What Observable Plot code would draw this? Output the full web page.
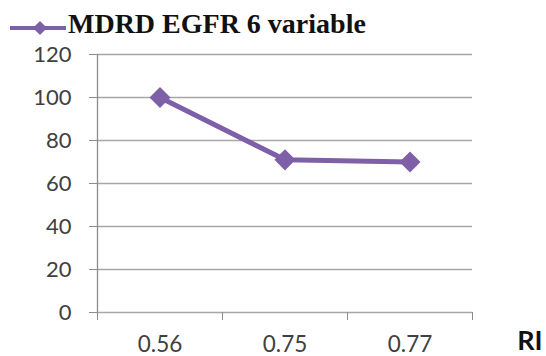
<!DOCTYPE html>
<html>
<head>
<meta charset="utf-8">
<script src="https://cdn.jsdelivr.net/npm/d3@7"></script>
<script src="https://cdn.jsdelivr.net/npm/@observablehq/plot@0.6"></script>
<style>
  html, body { margin: 0; padding: 0; background: #fff; }
  #wrap { position: relative; width: 546px; height: 356px; overflow: hidden; }
  #legend { height: 40px; position: relative; }
  #legend svg { position: absolute; left: 8px; top: 18px; }
  #legend span { position: absolute; left: 68px; top: 9px; font-family: "Liberation Serif", "DejaVu Serif", serif; font-weight: bold; font-size: 28px; line-height: 30px; color: #111; white-space: nowrap; }
</style>
</head>
<body>
<div id="wrap">
  <div id="legend"></div>
  <div id="chart"></div>
</div>
<script>
const seriesName = "MDRD EGFR 6 variable";
const categories = ["0.56", "0.75", "0.77"];
const values = [100, 71, 70];
const yTicks = [0, 20, 40, 60, 80, 100, 120];
const xLabel = "RI";

const purple = "#7d60a8";
const gridColor = "#a6a6a6";
const axisColor = "#8c8c8c";

const data = categories.map((c, i) => ({i, c, v: values[i]}));
const idx = categories.map((c, i) => i);
const bounds = d3.range(categories.length + 1).map(k => k - 0.5);

// legend
const leg = document.getElementById("legend");
leg.innerHTML = `<svg width="60" height="20"><line x1="2" y1="10" x2="58" y2="10" stroke="${purple}" stroke-width="4"/><rect x="27" y="5" width="10" height="10" fill="${purple}" transform="rotate(45 32 10)"/></svg><span>${seriesName}</span>`;

const chart = Plot.plot({
  width: 546,
  height: 316,
  marginTop: 14,
  marginBottom: 44,
  marginLeft: 97,
  marginRight: 74,
  style: {fontFamily: "Lato, 'Open Sans', sans-serif", color: "#404040", background: "transparent"},
  x: {type: "linear", domain: [-0.5, categories.length - 0.5], axis: null},
  y: {domain: [0, 120], axis: null},
  marks: [
    Plot.gridY(yTicks, {stroke: gridColor, strokeOpacity: 1, strokeWidth: 1.3}),
    Plot.axisY({ticks: yTicks, tickSize: 8, tickPadding: 18, fontSize: 22, stroke: axisColor, label: null}),
    Plot.ruleX([-0.5], {stroke: axisColor, strokeWidth: 1.3}),
    Plot.axisX({ticks: bounds, tickSize: 8, tickFormat: () => "", stroke: axisColor, label: null}),
    Plot.axisX({ticks: idx, tickSize: 0, tickPadding: 24, tickFormat: i => categories[i], fontSize: 22.5, label: null}),
    Plot.line(data, {x: "i", y: "v", stroke: purple, strokeWidth: 5}),
    Plot.dot(data, {x: "i", y: "v", symbol: "square", r: 8.4, rotate: 45, fill: purple, stroke: "none"}),
    Plot.text([xLabel], {frameAnchor: "bottom-right", dx: 70, dy: 37, text: d => d, fontSize: 27, fontWeight: "bold", fill: "#111", textAnchor: "end", lineAnchor: "bottom"})
  ]
});
document.getElementById("chart").appendChild(chart);
</script>
</body>
</html>
